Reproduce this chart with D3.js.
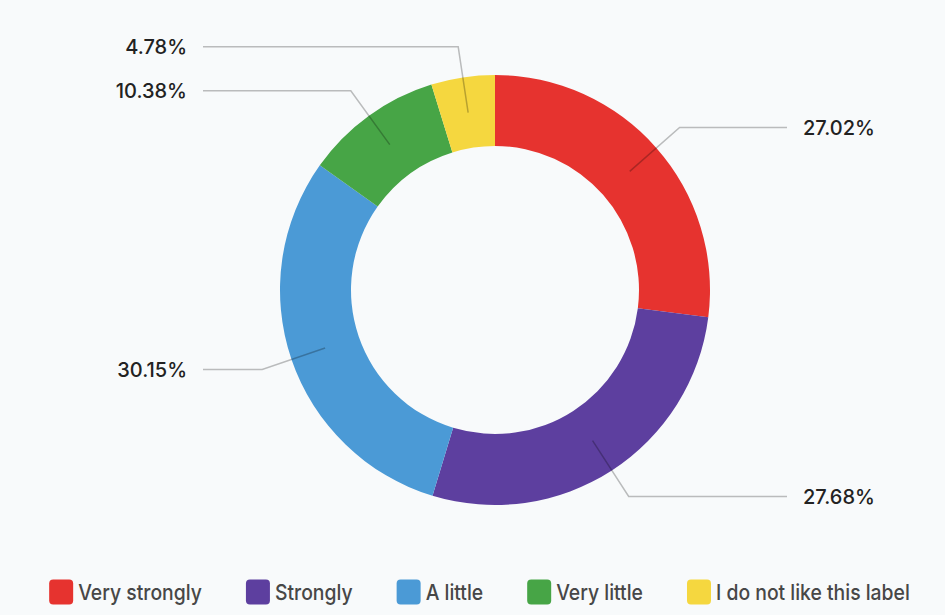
<!DOCTYPE html>
<html>
<head>
<meta charset="utf-8">
<script src="https://cdn.jsdelivr.net/npm/d3@7"></script>
<style>
  html, body { margin: 0; padding: 0; background: #f8fafb; }
  svg { display: block; }
</style>
</head>
<body>
<svg id="chart" width="945" height="615"></svg>
<script>
// Survey answer categories, their shares (%) and slice colours
const categories = ["Very strongly", "Strongly", "A little", "Very little", "I do not like this label"];
const shares = [27.02, 27.68, 30.15, 10.38, 4.78];
const colors = ["#e6332f", "#5d3f9f", "#4b9ad6", "#47a546", "#f5d73f"];
const valueLabels = shares.map(v => v.toFixed(2) + "%");

const width = 945, height = 615;
const cx = 495, cy = 290;
const outerR = 215, innerR = 144;

const svg = d3.select("#chart");
svg.append("rect").attr("width", width).attr("height", height).attr("fill", "#f8fafb");

const data = categories.map((c, i) => ({ name: c, value: shares[i], color: colors[i], label: valueLabels[i] }));

const pie = d3.pie().value(d => d.value).sort(null);
const arcs = pie(data);

const arc = d3.arc().innerRadius(innerR).outerRadius(outerR);
const midArc = d3.arc().innerRadius((innerR + outerR) / 2).outerRadius((innerR + outerR) / 2);
const elbowArc = d3.arc().innerRadius(outerR + 31).outerRadius(outerR + 31);

const g = svg.append("g").attr("transform", `translate(${cx},${cy})`);

g.selectAll("path.slice")
  .data(arcs)
  .join("path")
  .attr("class", "slice")
  .attr("d", arc)
  .attr("fill", d => d.data.color);

// Leader lines: from the middle of the ring, out to an elbow, then level to the label
const rightEnd = 787 - cx, leftEnd = 203 - cx;
const isRight = d => (d.startAngle + d.endAngle) / 2 < Math.PI;

g.selectAll("polyline.leader")
  .data(arcs)
  .join("polyline")
  .attr("class", "leader")
  .attr("fill", "none")
  .attr("stroke", "#000")
  .attr("stroke-opacity", 0.25)
  .attr("stroke-width", 1.5)
  .attr("points", d => {
    const a = midArc.centroid(d);
    const b = elbowArc.centroid(d);
    const c = [isRight(d) ? rightEnd : leftEnd, b[1]];
    return [a, b, c].map(p => p.join(",")).join(" ");
  });

g.selectAll("text.value")
  .data(arcs)
  .join("text")
  .attr("class", "value")
  .attr("x", d => isRight(d) ? rightEnd + 16 : leftEnd - 16)
  .attr("y", d => elbowArc.centroid(d)[1])
  .attr("dy", "0.36em")
  .attr("text-anchor", d => isRight(d) ? "start" : "end")
  .attr("font-family", "Inter, 'Noto Sans', sans-serif")
  .attr("font-size", 20)
  .attr("font-weight", 500)
  .attr("fill", "#222")
  .text(d => d.data.label);

// Legend, laid out from the measured text widths and centred under the chart
const squeeze = 0.88;
const legend = svg.append("g");
const items = legend.selectAll("g.item").data(data).join("g").attr("class", "item");
items.append("rect")
  .attr("width", 24).attr("height", 25).attr("rx", 4)
  .attr("y", -12.5)
  .attr("fill", d => d.color);
const labels = items.append("text")
  .attr("font-family", "Inter, 'Noto Sans', sans-serif")
  .attr("font-size", 22)
  .attr("font-weight", 500)
  .attr("fill", "#474747")
  .attr("dy", "0.36em")
  .text(d => d.name);

const boxW = 24, boxGap = 5, itemGap = 44;
let x = 0;
const positions = [];
labels.each(function () {
  const w = this.getComputedTextLength() * squeeze;
  positions.push(x);
  x += boxW + boxGap + w + itemGap;
});
const total = x - itemGap;
labels.attr("transform", `translate(${boxW + boxGap},0) scale(${squeeze},1)`);
items.attr("transform", (d, i) => `translate(${positions[i]},0)`);
legend.attr("transform", `translate(${479.5 - total / 2},592)`);
</script>
</body>
</html>
